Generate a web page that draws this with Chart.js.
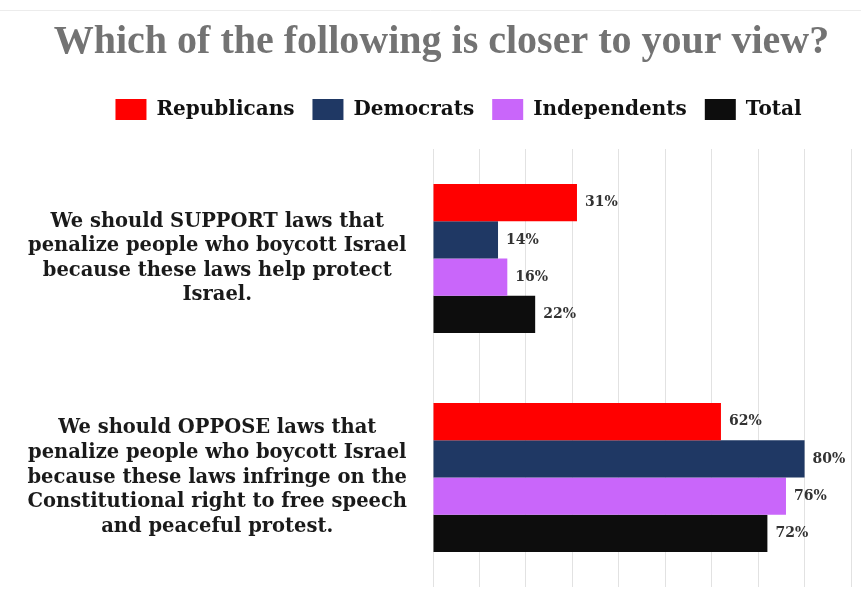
<!DOCTYPE html>
<html>
<head>
<meta charset="utf-8">
<script src="https://cdn.jsdelivr.net/npm/chart.js@4/dist/chart.umd.min.js"></script>
<style>
    html, body { margin: 0; padding: 0; background: #fff; }
    canvas { display: block; }
</style>
</head>
<body>
<canvas id="chart" width="861" height="596"></canvas>
<script>
// Daten.
var categories = [
    ['We should SUPPORT laws that', 'penalize people who boycott Israel', 'because these laws help protect', 'Israel.'],
    ['We should OPPOSE laws that', 'penalize people who boycott Israel', 'because these laws infringe on the', 'Constitutional right to free speech', 'and peaceful protest.']
];
var seriesNames = ['Republicans', 'Democrats', 'Independents', 'Total'];
var republicans = [31, 62];
var democrats = [14, 80];
var independents = [16, 76];
var total = [22, 72];
var seriesColors = ['#ff0000', '#1f3864', '#c966fa', '#0d0d0d'];

var seriesValues = [republicans, democrats, independents, total];

(function () {
    var labelFont = 'DejaVu Serif';

    // Prozentwerte rechts neben die Balken schreiben.
    var valueLabels = {
        id: 'valueLabels',
        afterDatasetsDraw: function (chart) {
            var ctx = chart.ctx;
            ctx.save();
            ctx.font = 'bold 14px "' + labelFont + '"';
            ctx.fillStyle = '#333333';
            ctx.textAlign = 'left';
            ctx.textBaseline = 'middle';
            chart.data.datasets.forEach(function (ds, i) {
                chart.getDatasetMeta(i).data.forEach(function (bar, j) {
                    ctx.fillText(ds.data[j] + '%', bar.x + 8, bar.y);
                });
            });
            ctx.restore();
        }
    };

    // Abstand unter der Legende; Titel und Legende leicht nach rechts versetzt.
    var headerTweaks = {
        id: 'headerTweaks',
        beforeInit: function (chart) {
            var origFit = chart.legend.fit;
            chart.legend.fit = function () {
                origFit.call(this);
                this.height += 19;
            };
        },
        afterLayout: function (chart) {
            chart.legend.left += 33;
            chart.legend.right += 33;
            if (chart.titleBlock) {
                chart.titleBlock.left += 16;
                chart.titleBlock.right += 16;
            }
        }
    };

    // Dünne graue Linie ganz oben.
    var topRule = {
        id: 'topRule',
        beforeDraw: function (chart) {
            var ctx = chart.ctx;
            ctx.save();
            ctx.strokeStyle = '#ececec';
            ctx.lineWidth = 1;
            ctx.beginPath();
            ctx.moveTo(0, 10.5);
            ctx.lineTo(chart.width, 10.5);
            ctx.stroke();
            ctx.restore();
        }
    };

    var datasets = seriesNames.map(function (name, i) {
        return {
            label: name,
            data: seriesValues[i],
            backgroundColor: seriesColors[i],
            borderWidth: 0,
            categoryPercentage: 0.68,
            barPercentage: 1.0
        };
    });

    new Chart(document.getElementById('chart').getContext('2d'), {
        type: 'bar',
        data: {
            labels: categories,
            datasets: datasets
        },
        options: {
            indexAxis: 'y',
            responsive: false,
            maintainAspectRatio: false,
            animation: false,
            layout: {
                padding: { left: 0, right: 10, top: 0, bottom: 9 }
            },
            plugins: {
                title: {
                    display: true,
                    text: 'Which of the following is closer to your view?',
                    color: '#737373',
                    font: { family: 'Liberation Serif', size: 40, weight: 'bold' },
                    padding: { top: 19, bottom: 14 }
                },
                legend: {
                    display: true,
                    labels: {
                        boxWidth: 31,
                        boxHeight: 21,
                        padding: 18,
                        color: '#111111',
                        font: { family: labelFont, size: 20, weight: 'bold' }
                    }
                },
                tooltip: { enabled: false }
            },
            scales: {
                x: {
                    min: 0,
                    max: 90,
                    ticks: { display: false, stepSize: 10 },
                    grid: { color: '#e2e2e2', drawTicks: false },
                    border: { display: false }
                },
                y: {
                    grid: { display: false, drawTicks: false },
                    border: { display: false },
                    ticks: {
                        crossAlign: 'center',
                        padding: 26,
                        color: '#1a1a1a',
                        font: { family: labelFont, size: 19.5, weight: 'bold', lineHeight: 1.26 }
                    },
                    afterFit: function (scale) {
                        scale.width = 433;
                        // Mehrzeilige Beschriftungen sollen die Fläche nicht verkleinern.
                        scale.paddingTop = 0;
                        scale.paddingBottom = 0;
                    }
                }
            }
        },
        plugins: [valueLabels, headerTweaks, topRule]
    });
})();
</script>
</body>
</html>
